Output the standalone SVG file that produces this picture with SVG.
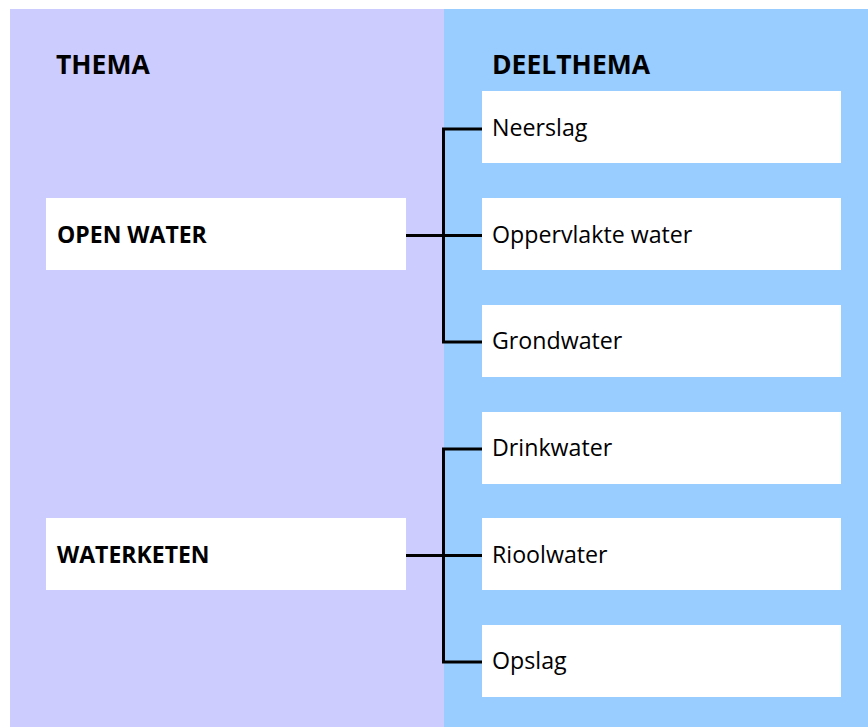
<svg xmlns="http://www.w3.org/2000/svg" width="868" height="727" viewBox="0 0 868 727">
  <style>
    .box { fill: #FFFFFF; }
    .head { font-family: "Open Sans", "Liberation Sans", sans-serif; font-weight: bold; font-size: 26.5px; fill: #000; }
    .lbl { font-family: "Open Sans", "Liberation Sans", sans-serif; font-weight: bold; font-size: 23px; fill: #000; }
    .sub { font-family: "Open Sans", "Liberation Sans", sans-serif; font-size: 23.2px; fill: #000; }
    .conn { fill: none; stroke: #000; stroke-width: 3; }
  </style>
  <rect x="0" y="0" width="868" height="727" fill="#FFFFFF"/>
  <g id="panels">
    <rect x="10" y="9" width="434" height="718" fill="#CCCCFF"/>
    <rect x="444" y="9" width="424" height="718" fill="#99CCFF"/>
  </g>
  <g id="headers">
    <text class="head" x="56" y="74">THEMA</text>
    <text class="head" x="492" y="74">DEELTHEMA</text>
  </g>
  <g id="connectors">
    <path class="conn" d="M482,129 H443.5 V342 H482 M443.5,235.5 H482 M406,235.5 H443.5"/>
    <path class="conn" d="M482,449 H443.5 V662 H482 M443.5,555.5 H482 M406,555.5 H443.5"/>
  </g>
  <g id="open-water">
    <rect class="box" x="46" y="198" width="360" height="72"/>
    <text class="lbl" x="57" y="243">OPEN WATER</text>
  </g>
  <g id="waterketen">
    <rect class="box" x="46" y="518" width="360" height="72"/>
    <text class="lbl" x="57" y="563">WATERKETEN</text>
  </g>
  <g id="neerslag">
    <rect class="box" x="482" y="91" width="359" height="72"/>
    <text class="sub" x="492" y="136">Neerslag</text>
  </g>
  <g id="oppervlakte-water">
    <rect class="box" x="482" y="198" width="359" height="72"/>
    <text class="sub" x="492" y="243">Oppervlakte water</text>
  </g>
  <g id="grondwater">
    <rect class="box" x="482" y="305" width="359" height="72"/>
    <text class="sub" x="492" y="349">Grondwater</text>
  </g>
  <g id="drinkwater">
    <rect class="box" x="482" y="412" width="359" height="72"/>
    <text class="sub" x="492" y="456">Drinkwater</text>
  </g>
  <g id="rioolwater">
    <rect class="box" x="482" y="518" width="359" height="72"/>
    <text class="sub" x="492" y="563">Rioolwater</text>
  </g>
  <g id="opslag">
    <rect class="box" x="482" y="625" width="359" height="72"/>
    <text class="sub" x="492" y="669">Opslag</text>
  </g>
</svg>
